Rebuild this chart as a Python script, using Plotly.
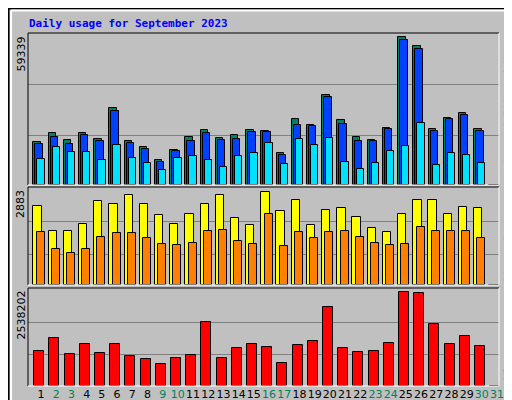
import plotly.graph_objects as go
import numpy as np

days = list(range(1, 32))
S = 59339 / 442
hits_px  = [400,373,394,373,391,300,397,415,454,424,385,364,388,379,364,367,433,331,349,262,334,385,394,358,88,115,361,328,313,361]
files_px = [406,385,406,379,397,307,403,421,460,428,397,373,394,391,370,370,439,349,352,268,346,397,397,361,97,124,367,331,319,367]
pages_px = [451,415,430,430,454,409,448,463,484,448,442,454,475,442,433,403,466,391,409,388,460,481,463,427,412,343,469,433,439,463]
hits  = [round((530 - v) * S) for v in hits_px] + [0]
files = [round((530 - v) * S) for v in files_px] + [0]
pages = [round((530 - v) * S) for v in pages_px] + [0]

V = 2883 / 277
visits_px = [70,145,145,124,55,64,37,64,97,124,94,64,37,106,127,28,85,52,127,82,76,103,136,148,94,52,52,94,73,76]
sites_px  = [148,196,208,196,160,151,151,166,181,184,178,145,142,172,181,94,187,148,166,148,145,160,178,184,181,133,145,145,145,166]
visits = [round((305 - v) * V) for v in visits_px] + [0]
sites  = [round((305 - v) * V) for v in sites_px] + [0]

K = 2538202 / 274
kb_px = [499,460,508,478,505,478,514,523,538,520,511,415,520,490,478,487,535,481,469,370,490,502,499,475,328,331,421,478,457,484]
kbytes = [round((602 - v) * K) for v in kb_px] + [0]

weekend = {2,3,9,10,16,17,23,24,30,31}
ticktext = [f"<span style='color:#00805C'>{d}</span>" if d in weekend else str(d) for d in days]

d = np.array(days)
fig = go.Figure()
line = dict(color="black", width=1)
def bar(x, y, color, w, yaxis):
    fig.add_trace(go.Bar(x=x, y=y, width=w, marker=dict(color=color, line=line),
                         xaxis="x", yaxis=yaxis, showlegend=False, hoverinfo="skip"))

bar(d - 0.26, hits, "#00805C", 0.48, "y")
bar(d - 0.13, files, "#0040FF", 0.48, "y")
bar(d, pages, "#00E0FF", 0.48, "y")
bar(d - 0.235, visits, "#FFFF00", 0.55, "y2")
bar(d - 0.03, sites, "#FF8000", 0.53, "y2")
bar(d - 0.12, kbytes, "#FF0000", 0.66, "y3")

xr = [0.14, 31.13]
dom_x = [20/512, 491/512]
def yax(dom, top, mx):
    return dict(domain=dom, range=[0, top], tickvals=[mx*0.334, mx*0.682], showticklabels=False,
                showgrid=True, gridcolor="#808080", gridwidth=1, zeroline=False, fixedrange=True,
                automargin=False)

fig.update_layout(
    width=512, height=400, margin=dict(l=0, r=0, t=0, b=0, autoexpand=False),
    paper_bgcolor="#C0C0C0", plot_bgcolor="#C0C0C0", barmode="overlay", bargap=0,
    hovermode=False,
    font=dict(family="DejaVu Sans Mono", size=11, color="black"),
    xaxis=dict(domain=dom_x, range=xr, tickvals=days, ticktext=ticktext, ticks="", tickangle=0,
               automargin=False, showgrid=False, zeroline=False, anchor="y3",
               tickfont=dict(family="DejaVu Sans", size=11)),
    yaxis=yax([0.5575, 0.9375], 61084, 59339),
    yaxis2=yax([0.3075, 0.55], 3018, 2883),
    yaxis3=yax([0.055, 0.3], 2658600, 2538202),
)

panels = [(25, 177), (179, 277), (280, 378)]
for (t, b) in panels:
    fig.add_shape(type="line", xref="paper", yref="paper", x0=20/512, x1=491/512, y0=1-t/400, y1=1-t/400, line=dict(color="black", width=1))
    fig.add_shape(type="line", xref="paper", yref="paper", x0=20/512, x1=20/512, y0=1-t/400, y1=1-b/400, line=dict(color="black", width=1))
    fig.add_shape(type="line", xref="paper", yref="paper", x0=20/512, x1=491/512, y0=1-b/400, y1=1-b/400, line=dict(color="white", width=1))
    fig.add_shape(type="line", xref="paper", yref="paper", x0=491/512, x1=491/512, y0=1-t/400, y1=1-b/400, line=dict(color="white", width=1))
fig.add_shape(type="rect", xref="paper", yref="paper", x0=0.001, x1=0.999, y0=0.001, y1=0.999, line=dict(color="black", width=2))
fig.add_shape(type="line", xref="paper", yref="paper", x0=0.006, x1=0.994, y0=0.994, y1=0.994, line=dict(color="white", width=2))
fig.add_shape(type="line", xref="paper", yref="paper", x0=0.006, x1=0.006, y0=0.006, y1=0.994, line=dict(color="white", width=2))
fig.add_shape(type="line", xref="paper", yref="paper", x0=0.006, x1=0.994, y0=0.008, y1=0.008, line=dict(color="#808080", width=3))
fig.add_shape(type="line", xref="paper", yref="paper", x0=0.994, x1=0.994, y0=0.006, y1=0.994, line=dict(color="#808080", width=3))

def ann(text, x, y, color="black", angle=-90, size=11, xanchor="center", yanchor="top", family="DejaVu Sans"):
    fig.add_annotation(text=text, x=x, y=y, xref="paper", yref="paper", showarrow=False, textangle=angle,
                       font=dict(color=color, size=size, family=family), xanchor=xanchor, yanchor=yanchor)

ann("<b>Daily usage for September 2023</b>", 19/512, 1-7/400, color="#0000FF", angle=0, xanchor="left", family="DejaVu Sans Mono")
ann("59339", 13/512, 1-27/400)
ann("2883", 13/512, 1-180/400)
ann("2538202", 13/512, 1-281/400)
ann("<span style='color:#00E0FF'>Pages</span> / <span style='color:#0040FF'>Files</span> / <span style='color:#00805C'>Hits</span>",
    500/512, 1-27/400, family="DejaVu Sans Mono")
ann("<span style='color:#FF8000'>Sites</span> / <span style='color:#FFFF00'>Visits</span>",
    500/512, 1-181/400, family="DejaVu Sans Mono")
ann("KBytes", 500/512, 1-330/400, color="#FF0000", family="DejaVu Sans Mono")

fig.write_html("out.html")
